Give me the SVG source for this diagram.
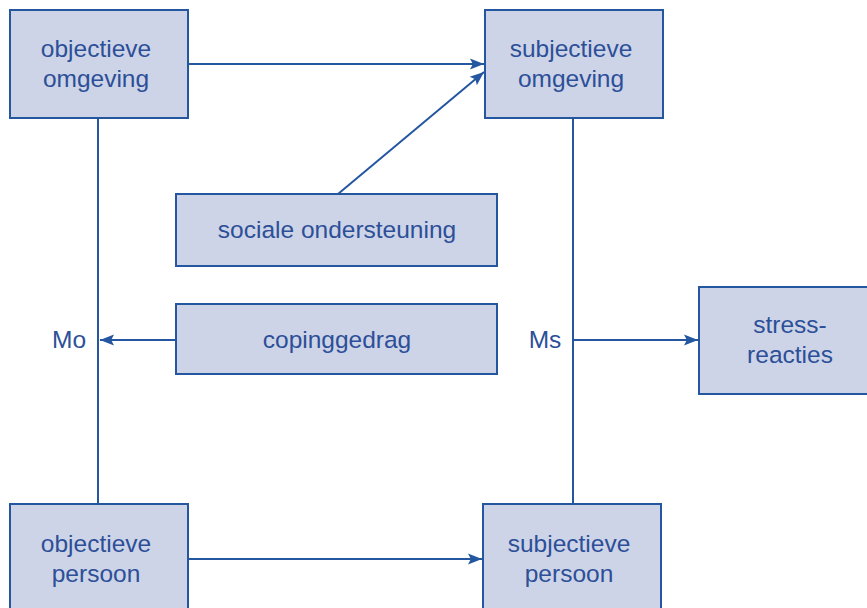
<svg xmlns="http://www.w3.org/2000/svg" width="867" height="608" viewBox="0 0 867 608">
  <style>
    .box { fill: #cdd4e7; stroke: #2457a0; stroke-width: 2; }
    .lbl { font-family: "Liberation Sans", Arial, sans-serif; font-size: 24.5px; fill: #2c4f98; text-anchor: middle; }
    .conn { stroke: #2457a0; stroke-width: 2; fill: none; }
  </style>
  <defs>
    <marker id="arrow" viewBox="0 0 10 10" refX="10" refY="5" markerWidth="7" markerHeight="7" markerUnits="strokeWidth" orient="auto">
      <path d="M0,1 L10,5 L0,9 L2,5 Z" fill="#2457a0"/>
    </marker>
  </defs>
  <rect width="867" height="608" fill="#ffffff"/>

  <g id="connectors">
    <line class="conn" x1="188" y1="64" x2="484" y2="64" marker-end="url(#arrow)"/>
    <line class="conn" x1="338" y1="194" x2="484" y2="72" marker-end="url(#arrow)" stroke-width="1.5"/>
    <line class="conn" x1="98" y1="118" x2="98" y2="504"/>
    <line class="conn" x1="573" y1="118" x2="573" y2="504"/>
    <line class="conn" x1="176" y1="340" x2="100" y2="340" marker-end="url(#arrow)"/>
    <line class="conn" x1="573" y1="340" x2="698" y2="340" marker-end="url(#arrow)"/>
    <line class="conn" x1="188" y1="559" x2="482" y2="559" marker-end="url(#arrow)"/>
    <text class="lbl" x="69" y="348">Mo</text>
    <text class="lbl" x="545" y="348">Ms</text>
  </g>

  <g id="objectieve-omgeving">
    <rect class="box" x="10" y="10" width="178" height="108"/>
    <text class="lbl" x="96" y="57">objectieve</text>
    <text class="lbl" x="96" y="87">omgeving</text>
  </g>

  <g id="subjectieve-omgeving">
    <rect class="box" x="485" y="10" width="178" height="108"/>
    <text class="lbl" x="571" y="57">subjectieve</text>
    <text class="lbl" x="571" y="87">omgeving</text>
  </g>

  <g id="sociale-ondersteuning">
    <rect class="box" x="176" y="194" width="321" height="72"/>
    <text class="lbl" x="337" y="238">sociale ondersteuning</text>
  </g>

  <g id="copinggedrag">
    <rect class="box" x="176" y="304" width="321" height="70"/>
    <text class="lbl" x="337" y="348">copinggedrag</text>
  </g>

  <g id="stress-reacties">
    <rect class="box" x="699" y="287" width="172" height="107"/>
    <text class="lbl" x="790" y="333">stress-</text>
    <text class="lbl" x="790" y="363">reacties</text>
  </g>

  <g id="objectieve-persoon">
    <rect class="box" x="10" y="504" width="178" height="110"/>
    <text class="lbl" x="96" y="552">objectieve</text>
    <text class="lbl" x="96" y="582">persoon</text>
  </g>

  <g id="subjectieve-persoon">
    <rect class="box" x="483" y="504" width="178" height="110"/>
    <text class="lbl" x="569" y="552">subjectieve</text>
    <text class="lbl" x="569" y="582">persoon</text>
  </g>
</svg>
